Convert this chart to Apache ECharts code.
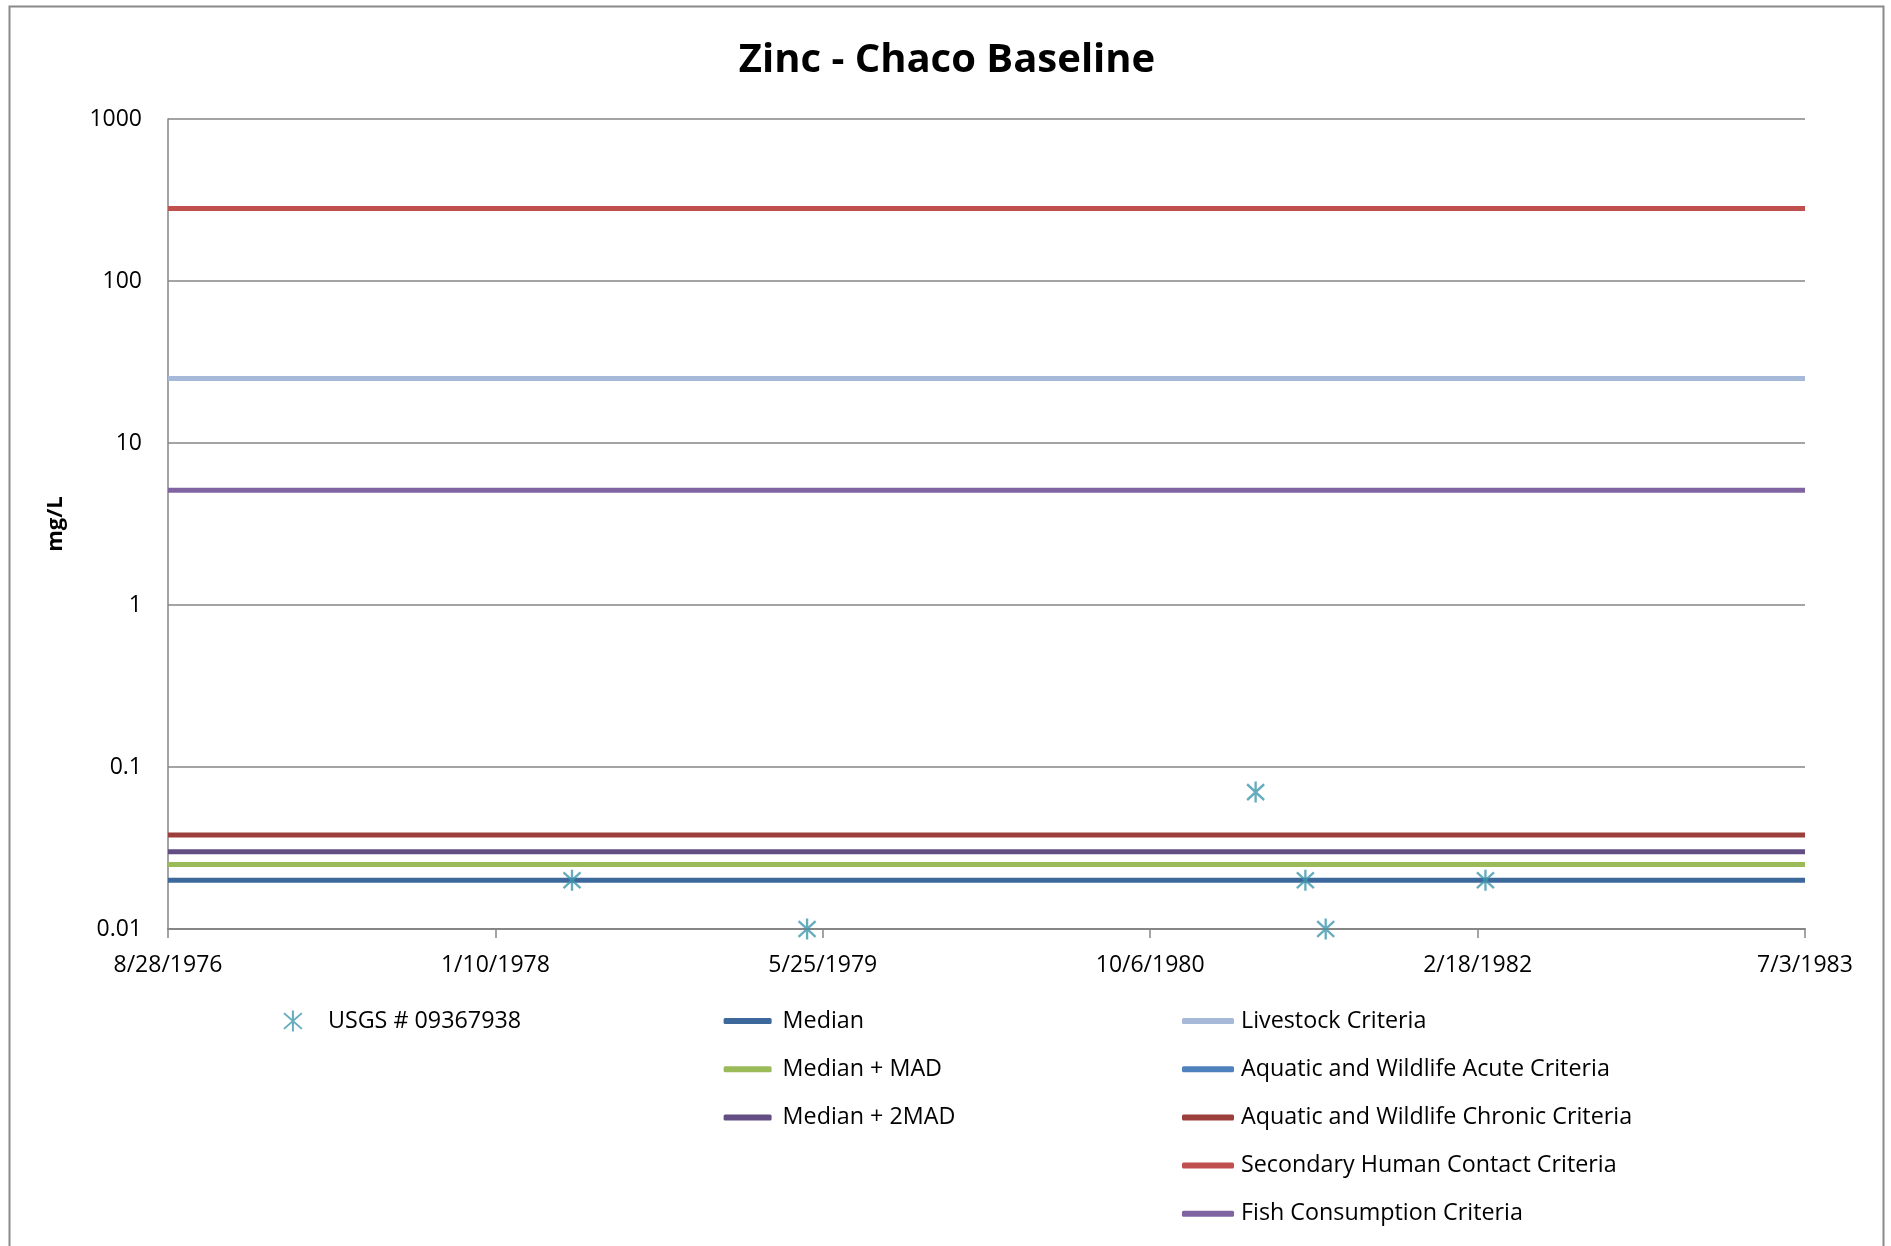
<!DOCTYPE html>
<html>
<head>
<meta charset="utf-8">
<script src="https://cdn.jsdelivr.net/npm/echarts@6/dist/echarts.min.js"></script>
<style>
html,body{margin:0;padding:0;background:#fff;}
#chart{width:1891px;height:1246px;}
</style>
</head>
<body>
<div id="chart"></div>
<script>
// ---- data ----
var sampleDates = ['1978-05-07', '1979-05-01', '1981-03-16', '1981-05-31', '1981-07-01', '1982-03-02'];
var sampleValues = [0.02, 0.01, 0.07, 0.02, 0.01, 0.02];
var axisStartDate = '1976-08-28';
var axisEndDate = '1983-07-03';
var axisIntervalDays = 500;
var yTickLabels = ['0.01', '0.1', '1', '10', '100', '1000'];

var medianValue = 0.02;
var medianMadValue = 0.025;
var median2MadValue = 0.03;
var livestockValue = 25;
var acuteValue = null;          // not visible in the chart
var chronicValue = 0.038;
var secondaryContactValue = 280;
var fishConsumptionValue = 5.1;

function toSerial(s) {
  var p = s.split('-');
  return Math.round((Date.UTC(+p[0], +p[1] - 1, +p[2]) - Date.UTC(1899, 11, 30)) / 86400000);
}
function serialToLabel(v) {
  var d = new Date(Date.UTC(1899, 11, 30) + Math.round(v) * 86400000);
  return (d.getUTCMonth() + 1) + '/' + d.getUTCDate() + '/' + d.getUTCFullYear();
}
var xMin = toSerial(axisStartDate);
var xMax = toSerial(axisEndDate);

function hline(v) {
  return v == null ? [] : [[xMin, v], [xMax, v]];
}

var FONT = 'Open Sans';
var chart = echarts.init(document.getElementById('chart'), null, {renderer: 'canvas'});

function lineSeries(name, value, color) {
  return {
    name: name, type: 'line', data: hline(value),
    symbol: 'none', showSymbol: false, silent: true,
    lineStyle: {color: color, width: 5, cap: 'butt'},
    itemStyle: {color: color},
    z: 2
  };
}

var starPath = 'path://M10,0 L10,20 M1.5,2.5 L18.5,17.5 M1.5,17.5 L18.5,2.5';

function legendText(padLeft) {
  return {fontFamily: FONT, fontSize: 23.3, color: '#000', lineHeight: 24, padding: [0, 0, 0, padLeft]};
}

var option = {
  backgroundColor: '#fff',
  animation: false,
  title: {
    text: 'Zinc - Chaco Baseline',
    left: 942, top: 36, textAlign: 'center',
    textStyle: {fontFamily: FONT, fontWeight: 'bold', fontSize: 40, color: '#000'}
  },
  graphic: [{
    type: 'rect', shape: {x: 9.5, y: 6.5, width: 1874, height: 1300},
    style: {fill: 'none', stroke: '#8a8a8a', lineWidth: 2}, silent: true, z: -1
  }],
  grid: {left: 168, right: 86, top: 119, bottom: 317, containLabel: false},
  xAxis: {
    type: 'value', min: xMin, max: xMax, interval: axisIntervalDays,
    axisLine: {show: true, lineStyle: {color: '#868686', width: 2}},
    axisTick: {show: true, length: 9, inside: false, lineStyle: {color: '#868686', width: 1.5}},
    splitLine: {show: false},
    axisLabel: {
      margin: 25, color: '#000', fontFamily: FONT, fontSize: 23,
      formatter: function (v) { return serialToLabel(v); }
    }
  },
  yAxis: {
    type: 'log', logBase: 10, min: 0.01, max: 1000,
    name: 'mg/L', nameLocation: 'middle', nameGap: 101, nameRotate: 90,
    nameTextStyle: {fontFamily: FONT, fontWeight: 'bold', fontSize: 22, color: '#000'},
    axisLine: {show: true, lineStyle: {color: '#868686', width: 1.5}},
    axisTick: {show: false},
    splitLine: {show: true, lineStyle: {color: '#868686', width: 1.5}},
    axisLabel: {
      margin: 26, color: '#000', fontFamily: FONT, fontSize: 23,
      formatter: function (v) {
        var e = Math.round(Math.log10(v));
        return yTickLabels[e + 2];
      }
    }
  },
  legend: [
    {
      orient: 'vertical', left: 278, top: 1004, itemWidth: 56, itemHeight: 21,
      itemGap: 24, data: ['USGS # 09367938'], textStyle: legendText(2)
    },
    {
      orient: 'vertical', left: 718.6, top: 1004, itemWidth: 48, itemHeight: 6, icon: 'roundRect',
      itemGap: 24.2, data: ['Median', 'Median + MAD', 'Median + 2MAD'], textStyle: legendText(6)
    },
    {
      orient: 'vertical', left: 1177, top: 1004, itemWidth: 52, itemHeight: 6, icon: 'roundRect',
      itemGap: 24.2,
      data: ['Livestock Criteria', 'Aquatic and Wildlife Acute Criteria', 'Aquatic and Wildlife Chronic Criteria',
             'Secondary Human Contact Criteria', 'Fish Consumption Criteria'],
      textStyle: legendText(2)
    }
  ],
  series: [
    {
      name: 'USGS # 09367938', type: 'scatter',
      data: sampleDates.map(function (d, i) { return [toSerial(d), sampleValues[i]]; }),
      symbol: starPath, symbolSize: [20, 21], symbolKeepAspect: true,
      itemStyle: {color: 'rgba(0,0,0,0)', borderColor: '#3E97AE', borderWidth: 2.4},
      z: 5
    },
    lineSeries('Median', medianValue, '#3C689C'),
    lineSeries('Median + MAD', medianMadValue, '#9BBB59'),
    lineSeries('Median + 2MAD', median2MadValue, '#634E84'),
    lineSeries('Livestock Criteria', livestockValue, '#A7B9D8'),
    lineSeries('Aquatic and Wildlife Acute Criteria', acuteValue, '#4F81BD'),
    lineSeries('Aquatic and Wildlife Chronic Criteria', chronicValue, '#9C3E3B'),
    lineSeries('Secondary Human Contact Criteria', secondaryContactValue, '#C0504D'),
    lineSeries('Fish Consumption Criteria', fishConsumptionValue, '#8064A2')
  ]
};
chart.setOption(option);
</script>
</body>
</html>
